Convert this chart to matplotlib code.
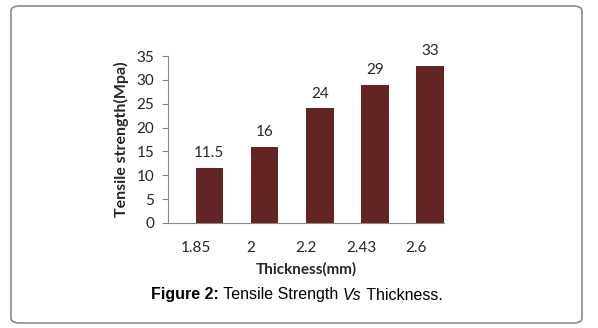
import matplotlib.pyplot as plt
from matplotlib.patches import FancyBboxPatch

thickness = ['1.85', '2', '2.2', '2.43', '2.6']
strength = [11.5, 16, 24, 29, 33]
yticks = [0, 5, 10, 15, 20, 25, 30, 35]

plt.rcParams['font.family'] = ['Lato', 'DejaVu Sans']

fig = plt.figure(figsize=(5.98, 3.28), dpi=100)

# rounded frame round the whole figure
frame = FancyBboxPatch((11 / 598, 1 - 323 / 328), 571 / 598, 317 / 328,
                       boxstyle='round,pad=0,rounding_size=0.015',
                       transform=fig.transFigure, fill=False,
                       edgecolor='#8a8a8a', linewidth=1.2)
fig.patches.append(frame)

ax = fig.add_axes([168 / 598, 1 - 223 / 328, 276 / 598, 167 / 328])

pos = range(len(thickness))
bars = ax.bar([p + 0.25 for p in pos], strength, width=0.5, color='#632523')
for p, v in zip(pos, strength):
    ax.annotate(f'{v:g}', (p + 0.25, v), xytext=(0, 5.5), textcoords='offset points',
                ha='center', va='bottom', fontsize=11, color='#262626')

ax.set_xlim(-0.5, 4.5)
ax.set_ylim(0, 35)
ax.set_xticks(list(pos))
ax.set_xticklabels(thickness)
ax.set_yticks(yticks)
ax.tick_params(axis='x', length=0, pad=13, labelsize=11, labelcolor='#262626')
ax.tick_params(axis='y', length=4, color='#8a8a8a', pad=6, labelsize=11, labelcolor='#262626')

for s in ['top', 'right']:
    ax.spines[s].set_visible(False)
for s in ['left', 'bottom']:
    ax.spines[s].set_color('#8a8a8a')

ax.set_ylabel('Tensile strength(Mpa)', fontsize=11.5, fontweight='bold', color='#262626', labelpad=5)
ax.set_xlabel('Thickness(mm)', fontsize=11, fontweight='bold', color='#262626', labelpad=5)

# caption: bold / regular / italic / regular pieces laid side by side
pieces = [('Figure 2:', 'bold', 'normal'), (' Tensile Strength ', 'normal', 'normal'),
          ('Vs', 'normal', 'italic'), (' Thickness.', 'normal', 'normal')]
renderer = fig.canvas.get_renderer()
texts = []
for s, w, st in pieces:
    t = fig.text(0, 1 - 295 / 328, s, fontfamily='Liberation Sans', fontsize=11.5,
                 fontweight=w, fontstyle=st, va='center', ha='left', color='black')
    texts.append(t)
widths = [t.get_window_extent(renderer).width for t in texts]
x = 297 - sum(widths) / 2
for t, w in zip(texts, widths):
    t.set_x(x / 598)
    x += w

fig.savefig('out.png', dpi=100)
